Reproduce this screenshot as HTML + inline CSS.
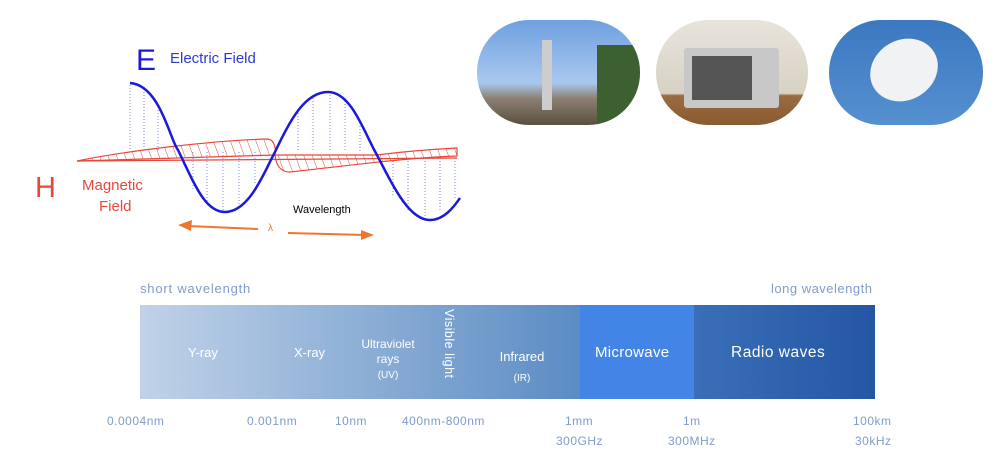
<!DOCTYPE html>
<html><head><meta charset="utf-8"><style>
body{margin:0;width:999px;height:466px;background:#fff;position:relative;overflow:hidden;font-family:"Liberation Sans",sans-serif}
.a{position:absolute}
.lab{color:#7f9ccc;font-size:12px;letter-spacing:.5px}
.pill{position:absolute;top:20px;height:105px;border-radius:52px;overflow:hidden}
</style></head><body>
<svg class="a" style="left:0;top:0" width="480" height="250">
<defs><pattern id="h" width="8" height="8" patternUnits="userSpaceOnUse" patternTransform="rotate(-20)"><line x1="0" y1="0" x2="0" y2="8" stroke="#e8463a" stroke-width="1"/></pattern></defs>
<g stroke="#7b86e8" stroke-width="1" stroke-dasharray="1,2">
<line x1="130" y1="85" x2="130" y2="150"/><line x1="144" y1="92" x2="144" y2="150"/><line x1="158" y1="110" x2="158" y2="150"/>
<line x1="193" y1="152" x2="193" y2="190"/><line x1="207" y1="152" x2="207" y2="205"/><line x1="223" y1="152" x2="223" y2="212"/><line x1="239" y1="152" x2="239" y2="205"/><line x1="255" y1="152" x2="255" y2="185"/>
<line x1="298" y1="110" x2="298" y2="152"/><line x1="313" y1="95" x2="313" y2="152"/><line x1="330" y1="92" x2="330" y2="152"/><line x1="345" y1="98" x2="345" y2="152"/><line x1="360" y1="120" x2="360" y2="152"/>
<line x1="393" y1="158" x2="393" y2="195"/><line x1="408" y1="158" x2="408" y2="212"/><line x1="425" y1="158" x2="425" y2="218"/><line x1="440" y1="158" x2="440" y2="212"/><line x1="455" y1="158" x2="455" y2="200"/>
</g>
<path d="M77,161 C130,150 220,140 268,139 C275,140 276,150 275,155 Z" fill="url(#h)" stroke="#e8463a" stroke-width="1.2"/>
<path d="M275,155 C276,165 280,172 290,172 C330,168 400,158 457,156 L457,148 C420,150 400,152 377,155 Z" fill="url(#h)" stroke="#e8463a" stroke-width="1.2"/>
<line x1="77" y1="161" x2="457" y2="158" stroke="#e8463a" stroke-width="1.2"/>
<path d="M130,83 C160,85 170,140 178,150 C195,185 205,212 225,212 C250,212 265,170 275,152 C290,120 305,92 328,92 C352,92 365,135 377,155 C395,190 410,220 430,220 C445,220 455,205 460,198" fill="none" stroke="#1a1ad8" stroke-width="2.5"/>
<line x1="258" y1="229" x2="188" y2="226" stroke="#f07630" stroke-width="2"/><path d="M178,225 L192,220 L191,231Z" fill="#f07630"/>
<line x1="288" y1="233" x2="365" y2="235" stroke="#f07630" stroke-width="2"/><path d="M374,235 L361,230 L361,240Z" fill="#f07630"/>
<text x="268" y="231" fill="#f07630" font-size="10">λ</text>
<text x="293" y="213" font-size="11">Wavelength</text>
<text x="136" y="70" fill="#1a1ad8" font-size="30">E</text>
<text x="170" y="63" fill="#2a3ad8" font-size="15">Electric Field</text>
<text x="35" y="197" fill="#e8463a" font-size="29">H</text>
<text x="82" y="190" fill="#e8463a" font-size="15">Magnetic</text>
<text x="99" y="211" fill="#e8463a" font-size="15">Field</text>
</svg>
<div class="pill" style="left:477px;width:163px;background:linear-gradient(#6fa0e0,#a9c8ee 60%,#8a7f70 75%,#5a5040)"><div class="a" style="left:65px;top:20px;width:10px;height:70px;background:#ccc"></div><div class="a" style="left:120px;top:25px;width:45px;height:80px;background:#3c6030"></div></div>
<div class="pill" style="left:656px;width:152px;background:linear-gradient(#e8e4dc,#d8d2c4 70%,#9a6a40 72%,#8a5a30)"><div class="a" style="left:28px;top:28px;width:95px;height:60px;background:#c8c8c8;border-radius:3px"></div><div class="a" style="left:36px;top:36px;width:60px;height:44px;background:#555"></div></div>
<div class="pill" style="left:829px;width:154px;background:linear-gradient(#3c78c0,#5590d0)"><div class="a" style="left:40px;top:20px;width:70px;height:60px;background:#f0f2f4;border-radius:50%;transform:rotate(-30deg)"></div></div>
<div class="a lab" style="left:140px;top:281px;font-size:13px;letter-spacing:.8px">short wavelength</div>
<div class="a lab" style="left:771px;top:281px;font-size:13px;letter-spacing:.5px">long wavelength</div>
<div class="a" style="left:140px;top:305px;width:440px;height:94px;background:linear-gradient(90deg,#c0d2e8,#5b8cc4)"></div>
<div class="a" style="left:580px;top:305px;width:114px;height:94px;background:#4285e6"></div>
<div class="a" style="left:694px;top:305px;width:181px;height:94px;background:linear-gradient(90deg,#3a6fb8,#2456a4)"></div>
<div class="a" style="color:#fff;font-size:13px;left:140px;top:305px;width:735px;height:94px">
<div class="a" style="left:48px;top:40px">Y-ray</div>
<div class="a" style="left:154px;top:40px">X-ray</div>
<div class="a" style="left:218px;top:32px;width:60px;text-align:center;font-size:12px;line-height:15px">Ultraviolet<br>rays<br><span style="font-size:10px">(UV)</span></div>
<div class="a" style="left:302px;top:4px;writing-mode:vertical-rl;font-size:12.5px;letter-spacing:.5px">Visible light</div>
<div class="a" style="left:354px;top:42px;width:56px;text-align:center;line-height:20px">Infrared<br><span style="font-size:10px">(IR)</span></div>
<div class="a" style="left:455px;top:39px;font-size:15px;letter-spacing:.3px">Microwave</div>
<div class="a" style="left:591px;top:39px;font-size:15.5px;letter-spacing:.5px">Radio waves</div>
</div>
<div class="lab">
<div class="a" style="left:107px;top:414px">0.0004nm</div>
<div class="a" style="left:247px;top:414px">0.001nm</div>
<div class="a" style="left:335px;top:414px">10nm</div>
<div class="a" style="left:402px;top:414px">400nm-800nm</div>
<div class="a" style="left:565px;top:414px">1mm</div>
<div class="a" style="left:556px;top:434px">300GHz</div>
<div class="a" style="left:683px;top:414px">1m</div>
<div class="a" style="left:668px;top:434px">300MHz</div>
<div class="a" style="left:853px;top:414px">100km</div>
<div class="a" style="left:855px;top:434px">30kHz</div>
</div>
</body></html>
